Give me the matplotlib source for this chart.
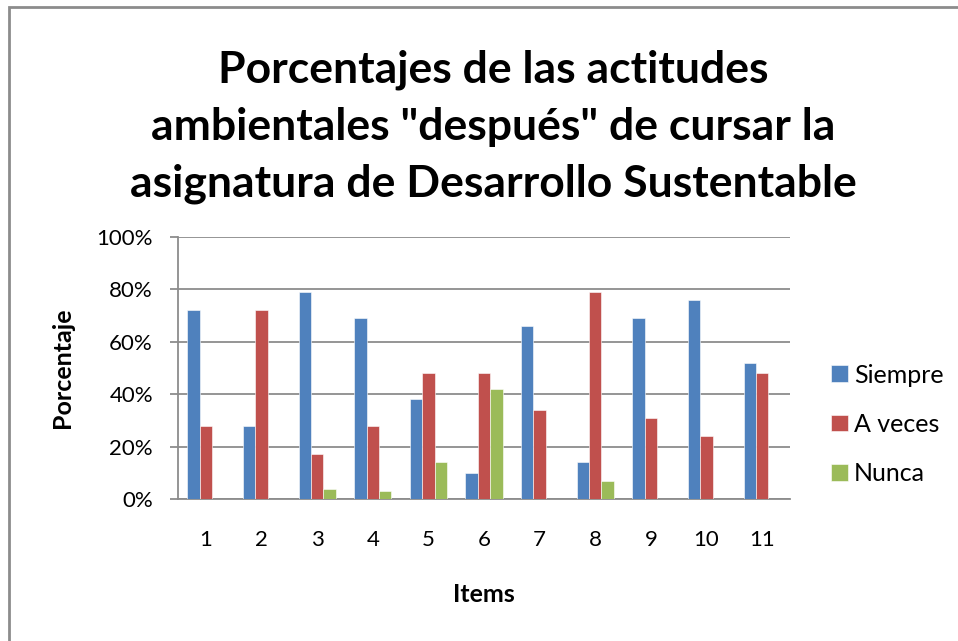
import matplotlib.pyplot as plt
import numpy as np
from matplotlib.patches import Rectangle

items = ['1', '2', '3', '4', '5', '6', '7', '8', '9', '10', '11']
siempre = [72, 28, 79, 69, 38, 10, 66, 14, 69, 76, 52]
a_veces = [28, 72, 17, 28, 48, 48, 34, 79, 31, 24, 48]
nunca = [0, 0, 4, 3, 14, 42, 0, 7, 0, 0, 0]
series_names = ['Siempre', 'A veces', 'Nunca']
colors = ['#4F81BD', '#C0504D', '#9BBB59']
yticks = [0, 20, 40, 60, 80, 100]

plt.rcParams['font.family'] = ['Lato', 'DejaVu Sans']

fig = plt.figure(figsize=(9.58, 6.41), dpi=100)
ax = fig.add_axes([178 / 958, 1 - 499 / 641, 612 / 958, 262 / 641])

x = np.arange(1, len(items) + 1)
w = 0.222
for i, (vals, name, c) in enumerate(zip([siempre, a_veces, nunca], series_names, colors)):
    ax.bar(x + (i - 1) * w, vals, width=w, color=c, label=name,
           edgecolor='white', linewidth=0.4, zorder=3)

ax.set_xlim(0.5, len(items) + 0.5)
ax.set_ylim(0, 100)
ax.set_yticks(yticks)
ax.set_yticklabels([f'{v}%' for v in yticks], fontsize=16)
ax.set_xticks(x)
ax.set_xticklabels(items, fontsize=16)
ax.grid(axis='y', color='#8c8c8c', linewidth=1.3, zorder=0)
for s in ['top', 'right']:
    ax.spines[s].set_visible(False)
for s in ['left', 'bottom']:
    ax.spines[s].set_color('#8c8c8c')
    ax.spines[s].set_linewidth(1.3)
ax.tick_params(axis='y', length=6, color='#8c8c8c', width=1.3, pad=12)
ax.tick_params(axis='x', length=0, pad=22)

ax.set_xlabel('Items', fontsize=18, fontweight='bold', labelpad=24)
ax.set_ylabel('Porcentaje', fontsize=18, fontweight='bold', labelpad=16)

fig.text(493 / 958, 1 - 127 / 641,
         'Porcentajes de las actitudes\nambientales "después" de cursar la\nasignatura de Desarrollo Sustentable',
         ha='center', va='center', fontsize=32, fontweight='bold', linespacing=1.5)

ax.legend(loc='center left', bbox_to_anchor=(1.0, 0.285), frameon=False,
          fontsize=18, handlelength=0.65, handleheight=0.65, handletextpad=0.25,
          labelspacing=1.05, borderaxespad=1.25)

fig.patches.append(Rectangle((9 / 958, -0.1), 1.2, 1 - 7 / 641 + 0.1,
                             transform=fig.transFigure, fill=False,
                             edgecolor='#8c8c8c', linewidth=2))

fig.savefig('out.png', dpi=100, facecolor='white')
